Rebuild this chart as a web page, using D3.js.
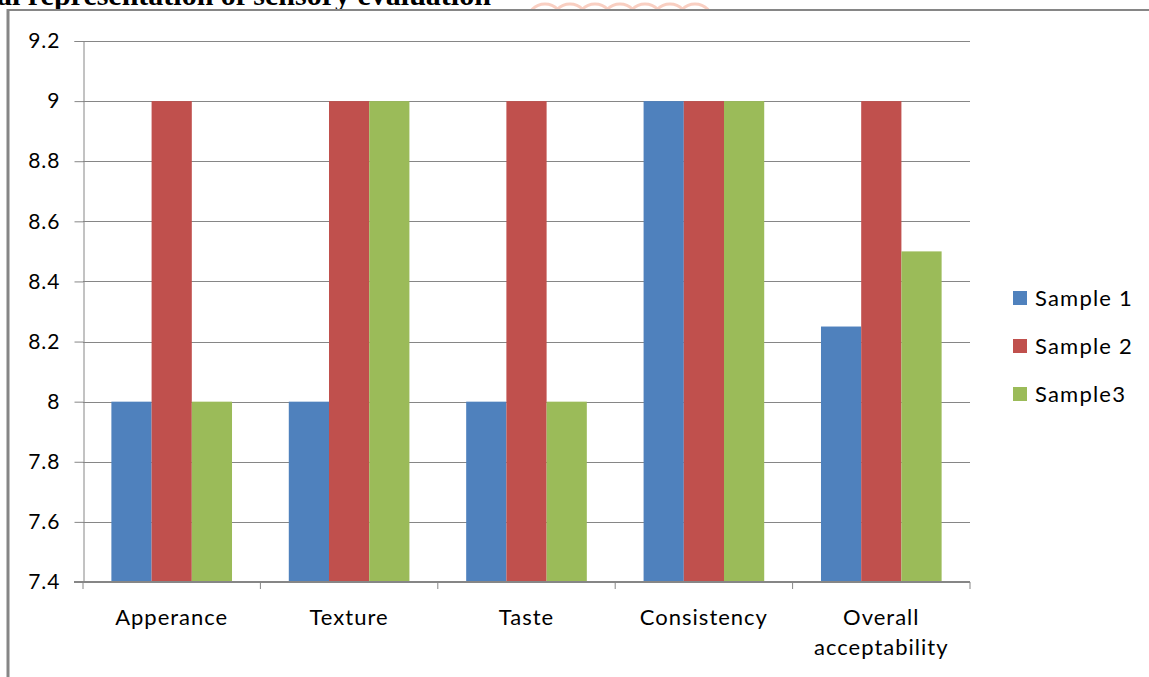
<!DOCTYPE html>
<html>
<head>
<meta charset="utf-8">
<script src="https://cdn.jsdelivr.net/npm/d3@7"></script>
<style>
  body { margin: 0; background: #fff; }
  svg text { font-family: Lato, "Open Sans", sans-serif; }
</style>
</head>
<body>
<div id="canvas"></div>
<script>
"use strict"

/* drawing size */
let svgWidth = 1149;
let svgHeight = 677;

/* plot area */
let plotLeft = 83
let plotRight = 970
let plotTop = 41
let plotBottom = 582

/* data */
let categories = ["Apperance", "Texture", "Taste", "Consistency", "Overall acceptability"];
let seriesNames = ["Sample 1", "Sample 2", "Sample3"];
let sample1 = [8, 8, 8, 9, 8.25];
let sample2 = [9, 9, 9, 9, 9];
let sample3 = [8, 9, 8, 9, 8.5];
let yTicks = [7.4, 7.6, 7.8, 8, 8.2, 8.4, 8.6, 8.8, 9, 9.2];
let colors = ["#4F81BD", "#C0504D", "#9BBB59"];

let seriesValues = [sample1, sample2, sample3];

let svg = d3.select("#canvas")
    .append("svg")
    .attr("width", svgWidth)
    .attr("height", svgHeight);

/* faint watermark arcs behind the title */
let wm = svg.append("g")
    .attr("fill", "none")
    .attr("stroke", "#f9cfc2")
    .attr("stroke-width", 3);
[545, 570, 595, 620, 645, 670, 695].forEach(function(cx) {
    wm.append("circle")
        .attr("cx", cx)
        .attr("cy", 22)
        .attr("r", 18);
});
svg.append("rect")
    .attr("x", 0).attr("y", 11)
    .attr("width", svgWidth).attr("height", svgHeight)
    .attr("fill", "#fff");

/* title, cut off at the top */
svg.append("text")
    .attr("x", -3)
    .attr("y", 5)
    .style("font-family", "'Liberation Serif', 'Times New Roman', serif")
    .style("font-weight", "bold")
    .style("font-size", "30px")
    .attr("fill", "#000")
    .text("al representation of sensory evaluation");

/* frame lines of the page */
svg.append("line")
    .attr("x1", 8).attr("y1", 10)
    .attr("x2", svgWidth).attr("y2", 10)
    .attr("stroke", "#868686")
    .attr("stroke-width", 2);
svg.append("line")
    .attr("x1", 8).attr("y1", 9)
    .attr("x2", 8).attr("y2", svgHeight)
    .attr("stroke", "#868686")
    .attr("stroke-width", 3);

/* scales */
let xScale = d3.scaleBand()
    .domain(categories)
    .range([plotLeft, plotRight])
    .paddingInner(0.32)
    .paddingOuter(0.16);

let catScale = d3.scaleBand()
    .domain(categories)
    .range([plotLeft, plotRight]);

let subScale = d3.scaleBand()
    .domain(seriesNames)
    .range([0, xScale.bandwidth()]);

let yScale = d3.scaleLinear()
    .domain([7.4, 9.2])
    .range([plotBottom, plotTop]);

/* gridlines */
svg.append("g")
    .selectAll("line")
    .data(yTicks.slice(1))
    .join("line")
    .attr("x1", plotLeft)
    .attr("x2", plotRight)
    .attr("y1", d => Math.round(yScale(d)) + 0.5)
    .attr("y2", d => Math.round(yScale(d)) + 0.5)
    .attr("stroke", "#868686");

/* y axis */
let yAxis = svg.append("g")
    .attr("transform", "translate(" + (plotLeft + 0.5) + ",0)")
    .call(d3.axisLeft(yScale)
        .tickValues(yTicks)
        .tickSize(9)
        .tickPadding(14)
        .tickFormat(d => d3.format("")(+d.toFixed(1))));
yAxis.select(".domain").attr("stroke", "#868686");
yAxis.selectAll(".tick line").attr("stroke", "#868686");
yAxis.selectAll(".tick text")
    .style("font-size", "21px")
    .style("letter-spacing", "1px")
    .attr("fill", "#000");

/* bars */
let groups = svg.append("g")
    .selectAll("g")
    .data(seriesNames)
    .join("g")
    .attr("fill", (d, i) => colors[i]);

groups.selectAll("rect")
    .data((s, i) => categories.map((c, j) => ({ cat: c, series: s, value: seriesValues[i][j] })))
    .join("rect")
    .attr("x", d => xScale(d.cat) + subScale(d.series))
    .attr("width", subScale.bandwidth())
    .attr("y", d => yScale(d.value))
    .attr("height", d => plotBottom - yScale(d.value));

/* x axis */
svg.append("line")
    .attr("x1", plotLeft - 9).attr("x2", plotRight)
    .attr("y1", plotBottom).attr("y2", plotBottom)
    .attr("stroke", "#868686")
    .attr("stroke-width", 2);

svg.append("g")
    .selectAll("line")
    .data(categories.concat(["end"]))
    .join("line")
    .attr("x1", (d, i) => i < categories.length ? catScale(d) : plotRight)
    .attr("x2", (d, i) => i < categories.length ? catScale(d) : plotRight)
    .attr("y1", plotBottom)
    .attr("y2", plotBottom + 7)
    .attr("stroke", "#868686");

let xLabels = svg.append("g")
    .selectAll("text")
    .data(categories)
    .join("text")
    .attr("x", d => catScale(d) + catScale.bandwidth() / 2)
    .attr("y", 625)
    .attr("text-anchor", "middle")
    .style("font-size", "22px")
    .style("letter-spacing", "1px")
    .attr("fill", "#000");

xLabels.each(function(d) {
    let words = d.split(" ");
    let t = d3.select(this);
    words.forEach(function(w, i) {
        t.append("tspan")
            .attr("x", catScale(d) + catScale.bandwidth() / 2)
            .attr("dy", i === 0 ? 0 : 30)
            .text(w);
    });
});

/* legend */
let legend = svg.append("g")
    .selectAll("g")
    .data(seriesNames)
    .join("g")
    .attr("transform", (d, i) => "translate(1013," + (291 + i * 48) + ")");

legend.append("rect")
    .attr("width", 14)
    .attr("height", 14)
    .attr("fill", (d, i) => colors[i]);

legend.append("text")
    .attr("x", 22)
    .attr("y", 15)
    .style("font-size", "22px")
    .style("letter-spacing", "1.2px")
    .attr("fill", "#000")
    .text(d => d);
</script>
</body>
</html>
